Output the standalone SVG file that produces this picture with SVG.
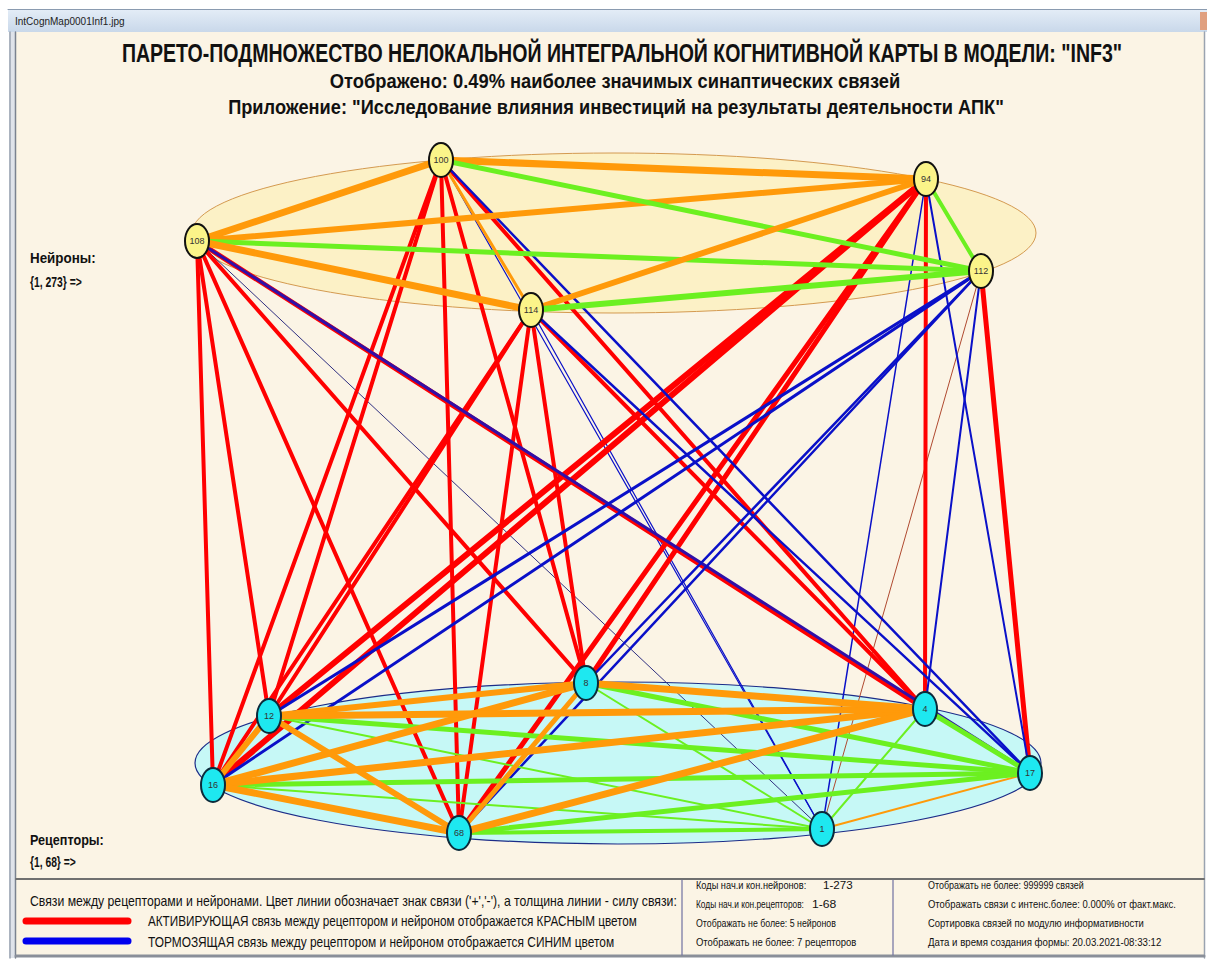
<svg xmlns="http://www.w3.org/2000/svg" width="1207" height="960" viewBox="0 0 1207 960">
<defs>
<linearGradient id="tb" x1="0" y1="0" x2="0" y2="1">
<stop offset="0" stop-color="#e4edf7"/>
<stop offset="1" stop-color="#c9d8ea"/>
</linearGradient>
<style>
.t{font-family:"Liberation Sans",Arial,sans-serif;fill:#111}
.tb{font-family:"Liberation Sans",Arial,sans-serif;font-weight:bold;fill:#111}
.lbl{font-family:"Liberation Sans",Arial,sans-serif;font-size:9px;fill:#333;text-anchor:middle;dominant-baseline:central}
.neu{fill:#fbf489;stroke:#111;stroke-width:2}
.rec{fill:#1ee8f0;stroke:#0c2a3a;stroke-width:2}
line{stroke-linecap:round}
.R{stroke:#ff0000}
.B{stroke:#0a10c8}
.O{stroke:#ff9a0a}
.G{stroke:#6cf020}
</style>
</defs>
<rect x="0" y="0" width="1207" height="960" fill="#ffffff"/>
<rect x="8" y="9" width="1199" height="23" fill="url(#tb)"/>
<line x1="8" y1="9.5" x2="1207" y2="9.5" stroke="#8a9bb0" stroke-width="1"/>
<text x="15" y="25" font-size="10" fill="#222" font-family="'Liberation Sans',Arial,sans-serif">IntCognMap0001Inf1.jpg</text>
<rect x="1200" y="12" width="7" height="18" fill="#e0a080"/>
<rect x="16" y="32" width="1188" height="924" fill="#fbf4e5"/>
<rect x="9" y="32" width="7" height="926" fill="#dfe3ea"/>
<line x1="10" y1="32" x2="10" y2="958" stroke="#9aa3b0" stroke-width="1.5"/>
<line x1="15.5" y1="32" x2="15.5" y2="958" stroke="#7a8290" stroke-width="1.5"/>
<line x1="1204.5" y1="32" x2="1204.5" y2="958" stroke="#9aa3b0" stroke-width="1.5"/>
<line x1="16" y1="879" x2="1204" y2="879" stroke="#707070" stroke-width="2"/>
<line x1="16" y1="956" x2="1204" y2="956" stroke="#8a8f99" stroke-width="3"/>
<line x1="682" y1="880" x2="682" y2="955" stroke="#7070a0" stroke-width="1.2"/>
<line x1="893" y1="880" x2="893" y2="955" stroke="#7070a0" stroke-width="1.2"/>

<g id="titles">
<text class="tb" transform="translate(622,62) scale(0.77,1)" font-size="25" text-anchor="middle" textLength="1299" lengthAdjust="spacingAndGlyphs">ПАРЕТО-ПОДМНОЖЕСТВО НЕЛОКАЛЬНОЙ ИНТЕГРАЛЬНОЙ КОГНИТИВНОЙ КАРТЫ В МОДЕЛИ: "INF3"</text>
<text class="tb" transform="translate(615,88) scale(0.85,1)" font-size="21" text-anchor="middle" textLength="671" lengthAdjust="spacingAndGlyphs">Отображено: 0.49% наиболее значимых синаптических связей</text>
<text class="tb" transform="translate(616,114) scale(0.86,1)" font-size="21" text-anchor="middle" textLength="902" lengthAdjust="spacingAndGlyphs">Приложение: "Исследование влияния инвестиций на результаты деятельности АПК"</text>
</g>

<g id="side-labels">
<text class="tb" transform="translate(30,263) scale(0.9,1)" font-size="14" textLength="73" lengthAdjust="spacingAndGlyphs">Нейроны:</text>
<text class="tb" transform="translate(30,287) scale(0.75,1)" font-size="14" textLength="69" lengthAdjust="spacingAndGlyphs">{1, 273} =&gt;</text>
<text class="tb" transform="translate(30,845) scale(0.9,1)" font-size="14" textLength="82" lengthAdjust="spacingAndGlyphs">Рецепторы:</text>
<text class="tb" transform="translate(30,867) scale(0.75,1)" font-size="14" textLength="61" lengthAdjust="spacingAndGlyphs">{1, 68} =&gt;</text>
</g>

<g id="legend">
<text class="t" transform="translate(30,906) scale(0.84,1)" font-size="14" textLength="770" lengthAdjust="spacingAndGlyphs">Связи между рецепторами и нейронами. Цвет линии обозначает знак связи ('+','-'), а толщина линии - силу связи:</text>
<line x1="26" y1="921" x2="128" y2="921" stroke="#ff0000" stroke-width="7" stroke-linecap="round"/>
<line x1="26" y1="941" x2="128" y2="941" stroke="#0000ee" stroke-width="7" stroke-linecap="round"/>
<text class="t" transform="translate(148,926) scale(0.84,1)" font-size="14" textLength="582" lengthAdjust="spacingAndGlyphs">АКТИВИРУЮЩАЯ связь между рецептором и нейроном отображается КРАСНЫМ цветом</text>
<text class="t" transform="translate(148,947) scale(0.86,1)" font-size="14" textLength="542" lengthAdjust="spacingAndGlyphs">ТОРМОЗЯЩАЯ связь между рецептором и нейроном отображается СИНИМ цветом</text>
<text class="t" transform="translate(696,889) scale(0.76,1)" font-size="11.5" textLength="145" lengthAdjust="spacingAndGlyphs">Коды нач.и кон.нейронов:</text>
<text class="t" transform="translate(823,889) scale(0.76,1)" font-size="11.5" textLength="39" lengthAdjust="spacingAndGlyphs">1-273</text>
<text class="t" transform="translate(696,908) scale(0.76,1)" font-size="11.5" textLength="142" lengthAdjust="spacingAndGlyphs">Коды нач.и кон.рецепторов:</text>
<text class="t" transform="translate(812,908) scale(0.76,1)" font-size="11.5" textLength="32" lengthAdjust="spacingAndGlyphs">1-68</text>
<text class="t" transform="translate(696,927) scale(0.76,1)" font-size="11.5" textLength="184" lengthAdjust="spacingAndGlyphs">Отображать не более: 5 нейронов</text>
<text class="t" transform="translate(696,946) scale(0.76,1)" font-size="11.5" textLength="211" lengthAdjust="spacingAndGlyphs">Отображать не более: 7 рецепторов</text>
<text class="t" transform="translate(928,889) scale(0.76,1)" font-size="11.5" textLength="205" lengthAdjust="spacingAndGlyphs">Отображать не более: 999999 связей</text>
<text class="t" transform="translate(928,908) scale(0.76,1)" font-size="11.5" textLength="326" lengthAdjust="spacingAndGlyphs">Отображать связи с интенс.более: 0.000% от факт.макс.</text>
<text class="t" transform="translate(928,927) scale(0.76,1)" font-size="11.5" textLength="284" lengthAdjust="spacingAndGlyphs">Сортировка связей по модулю информативности</text>
<text class="t" transform="translate(928,946) scale(0.76,1)" font-size="11.5" textLength="307" lengthAdjust="spacingAndGlyphs">Дата и время создания формы: 20.03.2021-08:33:12</text>
</g>

<g id="layers">
<ellipse cx="614" cy="233" rx="422" ry="80" fill="#fcf1c6" stroke="#d49a50" stroke-width="1"/>
<ellipse cx="618" cy="763" rx="423" ry="81" fill="#c6f8f6" stroke="#1c2c88" stroke-width="1.2"/>
</g>

<g id="connectors">
<line class="B" x1="197" y1="241" x2="822" y2="829" stroke-width="1" style="stroke:#303080"/>
<line class="B" x1="441" y1="160" x2="822" y2="829" stroke-width="1.2"/>
<line class="B" x1="531" y1="310" x2="822" y2="829" stroke-width="1.2"/>
<line class="B" x1="926" y1="179" x2="822" y2="829" stroke-width="1.5"/>
<line x1="981" y1="271" x2="822" y2="829" stroke="#b04a30" stroke-width="1"/>
<line class="R" x1="197" y1="241" x2="213" y2="785" stroke-width="4"/>
<line class="R" x1="197" y1="241" x2="269" y2="716" stroke-width="4"/>
<line class="R" x1="197" y1="241" x2="459" y2="833" stroke-width="4"/>
<line class="R" x1="197" y1="241" x2="586" y2="683" stroke-width="4"/>
<line class="R" x1="197" y1="241" x2="925" y2="709" stroke-width="5"/>
<line class="R" x1="441" y1="160" x2="213" y2="785" stroke-width="4"/>
<line class="R" x1="441" y1="160" x2="269" y2="716" stroke-width="4"/>
<line class="R" x1="441" y1="160" x2="459" y2="833" stroke-width="4"/>
<line class="R" x1="441" y1="160" x2="586" y2="683" stroke-width="4"/>
<line class="R" x1="441" y1="160" x2="925" y2="709" stroke-width="4"/>
<line class="R" x1="531" y1="310" x2="213" y2="785" stroke-width="4"/>
<line class="R" x1="531" y1="310" x2="269" y2="716" stroke-width="4"/>
<line class="R" x1="531" y1="310" x2="459" y2="833" stroke-width="4"/>
<line class="R" x1="531" y1="310" x2="586" y2="683" stroke-width="4"/>
<line class="R" x1="531" y1="310" x2="925" y2="709" stroke-width="4"/>
<line class="R" x1="926" y1="179" x2="213" y2="785" stroke-width="6"/>
<line class="R" x1="926" y1="179" x2="269" y2="716" stroke-width="6"/>
<line class="R" x1="926" y1="179" x2="459" y2="833" stroke-width="5"/>
<line class="R" x1="926" y1="179" x2="586" y2="683" stroke-width="5"/>
<line class="R" x1="926" y1="179" x2="925" y2="709" stroke-width="4"/>
<line class="R" x1="981" y1="271" x2="1030" y2="773" stroke-width="5"/>
<line class="B" x1="197" y1="241" x2="1030" y2="773" stroke-width="3" style="stroke:#3010a8"/>
<line class="B" x1="441" y1="160" x2="1030" y2="773" stroke-width="2.5"/>
<line class="B" x1="531" y1="310" x2="1030" y2="773" stroke-width="2.5"/>
<line class="B" x1="926" y1="179" x2="1030" y2="773" stroke-width="2"/>
<line class="B" x1="981" y1="271" x2="213" y2="785" stroke-width="3"/>
<line class="B" x1="981" y1="271" x2="269" y2="716" stroke-width="3"/>
<line class="B" x1="981" y1="271" x2="459" y2="833" stroke-width="2.5"/>
<line class="B" x1="981" y1="271" x2="586" y2="683" stroke-width="2.5"/>
<line class="B" x1="981" y1="271" x2="925" y2="709" stroke-width="2"/>
<line class="O" x1="197" y1="241" x2="441" y2="160" stroke-width="7"/>
<line class="O" x1="197" y1="241" x2="926" y2="179" stroke-width="6"/>
<line class="G" x1="197" y1="241" x2="981" y2="271" stroke-width="5"/>
<line class="O" x1="197" y1="241" x2="531" y2="310" stroke-width="7"/>
<line class="O" x1="441" y1="160" x2="926" y2="179" stroke-width="7"/>
<line class="G" x1="441" y1="160" x2="981" y2="271" stroke-width="5"/>
<line class="O" x1="441" y1="160" x2="531" y2="310" stroke-width="3"/>
<line class="G" x1="926" y1="179" x2="981" y2="271" stroke-width="4"/>
<line class="O" x1="926" y1="179" x2="531" y2="310" stroke-width="6"/>
<line class="G" x1="981" y1="271" x2="531" y2="310" stroke-width="6"/>
<line class="G" x1="213" y1="785" x2="822" y2="829" stroke-width="2"/>
<line class="G" x1="269" y1="716" x2="822" y2="829" stroke-width="2"/>
<line class="G" x1="586" y1="683" x2="822" y2="829" stroke-width="2"/>
<line class="G" x1="925" y1="709" x2="822" y2="829" stroke-width="2"/>
<line class="G" x1="459" y1="833" x2="822" y2="829" stroke-width="4"/>
<line class="O" x1="822" y1="829" x2="1030" y2="773" stroke-width="2"/>
<line class="G" x1="213" y1="785" x2="1030" y2="773" stroke-width="5"/>
<line class="G" x1="269" y1="716" x2="1030" y2="773" stroke-width="5"/>
<line class="G" x1="586" y1="683" x2="1030" y2="773" stroke-width="5"/>
<line class="G" x1="459" y1="833" x2="1030" y2="773" stroke-width="5"/>
<line class="G" x1="925" y1="709" x2="1030" y2="773" stroke-width="5"/>
<line class="O" x1="213" y1="785" x2="269" y2="716" stroke-width="6"/>
<line class="O" x1="213" y1="785" x2="586" y2="683" stroke-width="7"/>
<line class="O" x1="213" y1="785" x2="925" y2="709" stroke-width="7"/>
<line class="O" x1="213" y1="785" x2="459" y2="833" stroke-width="7"/>
<line class="O" x1="269" y1="716" x2="586" y2="683" stroke-width="6"/>
<line class="O" x1="269" y1="716" x2="925" y2="709" stroke-width="7"/>
<line class="O" x1="269" y1="716" x2="459" y2="833" stroke-width="6"/>
<line class="O" x1="586" y1="683" x2="459" y2="833" stroke-width="5"/>
<line class="O" x1="586" y1="683" x2="925" y2="709" stroke-width="7"/>
<line class="O" x1="459" y1="833" x2="925" y2="709" stroke-width="7"/>
</g>

<g id="n100"><ellipse class="neu" cx="441" cy="160" rx="12" ry="17"/><text class="lbl" x="441" y="160">100</text></g>
<g id="n94"><ellipse class="neu" cx="926" cy="179" rx="12" ry="17"/><text class="lbl" x="926" y="179">94</text></g>
<g id="n108"><ellipse class="neu" cx="197" cy="241" rx="12" ry="17"/><text class="lbl" x="197" y="241">108</text></g>
<g id="n112"><ellipse class="neu" cx="981" cy="271" rx="12" ry="17"/><text class="lbl" x="981" y="271">112</text></g>
<g id="n114"><ellipse class="neu" cx="531" cy="310" rx="12" ry="17"/><text class="lbl" x="531" y="310">114</text></g>
<g id="r8"><ellipse class="rec" cx="586" cy="683" rx="12" ry="17"/><text class="lbl" x="586" y="683">8</text></g>
<g id="r12"><ellipse class="rec" cx="269" cy="716" rx="12" ry="17"/><text class="lbl" x="269" y="716">12</text></g>
<g id="r4"><ellipse class="rec" cx="925" cy="709" rx="12" ry="17"/><text class="lbl" x="925" y="709">4</text></g>
<g id="r16"><ellipse class="rec" cx="213" cy="785" rx="12" ry="17"/><text class="lbl" x="213" y="785">16</text></g>
<g id="r17"><ellipse class="rec" cx="1030" cy="773" rx="12" ry="17"/><text class="lbl" x="1030" y="773">17</text></g>
<g id="r68"><ellipse class="rec" cx="459" cy="833" rx="12" ry="17"/><text class="lbl" x="459" y="833">68</text></g>
<g id="r1"><ellipse class="rec" cx="822" cy="829" rx="12" ry="17"/><text class="lbl" x="822" y="829">1</text></g>
</svg>
